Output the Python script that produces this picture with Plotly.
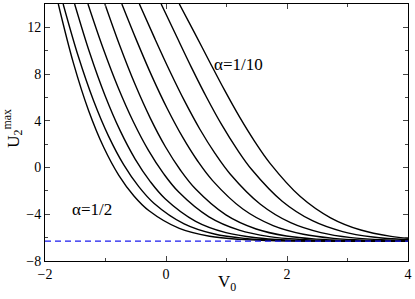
import plotly.graph_objects as go

# Curves: alpha = 1/2 (leftmost) ... 1/10 (rightmost)
curve_x = [
    [-1.78, -1.53, -1.28, -1.03, -0.78, -0.53, -0.28, 0.22, 0.72, 1.22, 1.72, 2.22, 4.0],
    [-1.70, -1.45, -1.20, -0.95, -0.70, -0.45, -0.20, 0.30, 0.80, 1.30, 1.80, 2.30, 4.0],
    [-1.51, -1.26, -1.01, -0.76, -0.51, -0.26, -0.01, 0.49, 0.99, 1.49, 1.99, 2.49, 4.0],
    [-1.29, -1.04, -0.79, -0.54, -0.29, -0.04, 0.21, 0.71, 1.21, 1.71, 2.21, 2.71, 4.0],
    [-1.01, -0.76, -0.51, -0.26, -0.01, 0.24, 0.49, 0.99, 1.49, 1.99, 2.49, 2.99, 4.0],
    [-0.73, -0.48, -0.23, 0.02, 0.27, 0.52, 0.77, 1.27, 1.77, 2.27, 2.77, 3.27, 4.0],
    [-0.44, -0.19, 0.06, 0.31, 0.56, 0.81, 1.06, 1.56, 2.06, 2.56, 3.06, 3.56, 4.0],
    [-0.08, 0.17, 0.42, 0.67, 0.92, 1.17, 1.42, 1.92, 2.42, 2.92, 3.42, 4.0],
    [0.22, 0.47, 0.72, 0.97, 1.22, 1.47, 1.72, 2.22, 2.72, 3.22, 3.72, 4.0],
]
curve_y = [
    [14.0, 8.94, 4.89, 1.74, -0.66, -2.43, -3.70, -5.21, -5.88, -6.15, -6.25, -6.29, -6.30],
    [14.0, 9.52, 5.76, 2.69, 0.25, -1.63, -3.05, -4.82, -5.69, -6.07, -6.22, -6.27, -6.30],
    [14.0, 9.80, 6.19, 3.18, 0.73, -1.20, -2.69, -4.60, -5.57, -6.01, -6.20, -6.27, -6.30],
    [14.0, 10.21, 6.83, 3.92, 1.47, -0.52, -2.10, -4.22, -5.36, -5.91, -6.15, -6.25, -6.30],
    [14.0, 10.38, 7.10, 4.23, 1.78, -0.23, -1.84, -4.05, -5.26, -5.86, -6.13, -6.24, -6.29],
    [14.0, 10.80, 7.78, 5.05, 2.64, 0.58, -1.12, -3.55, -4.97, -5.71, -6.06, -6.21, -6.28],
    [14.0, 11.10, 8.29, 5.66, 3.28, 1.21, -0.55, -3.14, -4.72, -5.57, -6.00, -6.18, -6.25],
    [14.0, 11.28, 8.58, 6.02, 3.67, 1.60, -0.19, -2.88, -4.55, -5.48, -5.95, -6.18],
    [14.0, 11.55, 9.06, 6.60, 4.29, 2.20, 0.36, -2.48, -4.30, -5.35, -5.89, -6.05],
]
asymptote_x = [-2, 4]
asymptote_y = [-6.3, -6.3]

x_ticks = [-2, 0, 2, 4]
y_ticks = [-8, -4, 0, 4, 8, 12]

FAM = "Liberation Serif, Times New Roman, serif"

fig = go.Figure()
for xs, ys in zip(curve_x, curve_y):
    fig.add_trace(go.Scatter(x=xs, y=ys, mode="lines",
                             line=dict(color="black", width=1.4, shape="spline", smoothing=1.0),
                             showlegend=False, hoverinfo="skip", cliponaxis=True))
fig.add_trace(go.Scatter(x=asymptote_x, y=asymptote_y, mode="lines",
                         line=dict(color="#1a1aee", width=1.3, dash="6px,4px"),
                         showlegend=False, hoverinfo="skip"))

fig.add_annotation(x=1.2, y=8.8, text="α=1/10", showarrow=False,
                   font=dict(family=FAM, size=17, color="black"))
fig.add_annotation(x=-1.23, y=-3.6, text="α=1/2", showarrow=False,
                   font=dict(family=FAM, size=17, color="black"))
fig.add_annotation(xref="paper", yref="paper", x=0.5, y=-0.085, text="V<sub>0</sub>",
                   showarrow=False, yanchor="middle",
                   font=dict(family=FAM, size=17, color="black"))
fig.add_annotation(xref="paper", yref="paper", x=-0.088, y=0.515,
                   text="U<sub>2</sub><sup>max</sup>", textangle=-90,
                   showarrow=False, xanchor="center", yanchor="middle",
                   font=dict(family=FAM, size=17, color="black"))

fig.update_layout(
    width=415, height=299,
    margin=dict(l=45, r=5, t=3, b=38),
    plot_bgcolor="white", paper_bgcolor="white",
    font=dict(family=FAM, size=13, color="black"),
    xaxis=dict(range=[-2, 4], tickvals=x_ticks, ticks="inside", ticklen=5,
               showline=True, linecolor="black", linewidth=1, mirror="allticks",
               showgrid=False, zeroline=False,
               tickfont=dict(family=FAM, size=14, color="black"),
               minor=dict(ticks="inside", dtick=1, ticklen=3, tick0=-2, showgrid=False)),
    yaxis=dict(range=[-8, 14], tickvals=y_ticks, ticks="inside", ticklen=5,
               showline=True, linecolor="black", linewidth=1, mirror="allticks",
               showgrid=False, zeroline=False,
               tickfont=dict(family=FAM, size=14, color="black"),
               minor=dict(ticks="inside", dtick=2, ticklen=3, tick0=-8, showgrid=False)),
)
fig.write_html("out.html", config={"displayModeBar": False},
               post_script="document.body.style.margin='0';document.body.style.overflow='hidden';")
